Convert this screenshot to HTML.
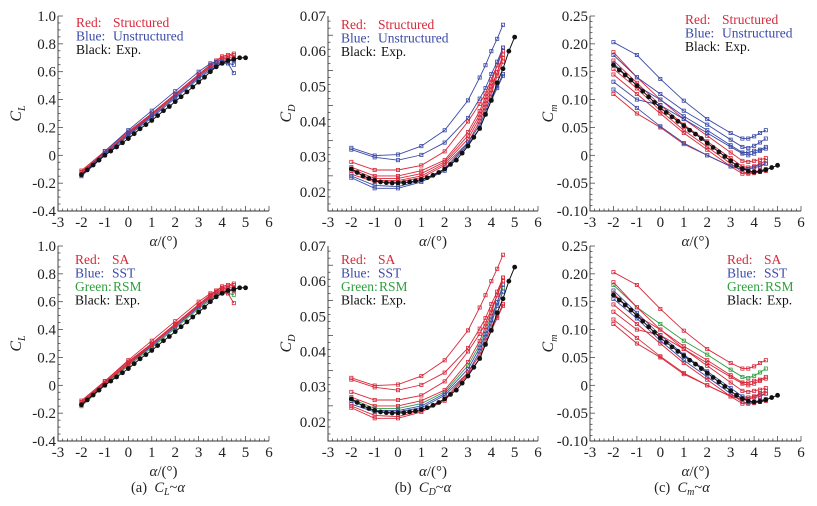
<!DOCTYPE html>
<html><head><meta charset="utf-8">
<style>
html,body{margin:0;padding:0;background:#fff;}
svg, svg text{font-family:"Liberation Serif","DejaVu Serif",serif;}
</style></head>
<body>
<svg id="fig" width="817" height="501" viewBox="0 0 817 501" xmlns="http://www.w3.org/2000/svg" font-family="Liberation Serif, serif"></svg>
<script>
// ---- data ----
const alphaCfd = [-2,-1,0,1,2,3,3.5,3.75,4,4.25,4.5];
const alphaExp = [-2,-1.75,-1.5,-1.25,-1,-0.75,-0.5,-0.25,0,0.25,0.5,0.75,1,1.25,1.5,1.75,2,2.25,2.5,2.75,3,3.25,3.5,3.75,4,4.25,4.5,4.75,5];
const xTicks = [-3,-2,-1,0,1,2,3,4,5,6];

const clExp = [-0.14,-0.105,-0.07,-0.035,0.0,0.03,0.06,0.09,0.12,0.155,0.19,0.22,0.25,0.285,0.32,0.35,0.385,0.42,0.455,0.49,0.525,0.56,0.6,0.635,0.66,0.68,0.69,0.70,0.70];
const clR1 = [-0.12,0.02,0.16,0.30,0.44,0.58,0.65,0.68,0.70,0.71,0.72];
const clR2 = [-0.13,0.01,0.15,0.29,0.43,0.57,0.64,0.67,0.69,0.70,0.70];
const clR3 = [-0.12,0.02,0.16,0.29,0.43,0.57,0.63,0.66,0.68,0.69,0.68];
const clR4 = [-0.11,0.03,0.17,0.30,0.44,0.58,0.65,0.68,0.71,0.72,0.73];
const clB1 = [-0.14,0.03,0.18,0.32,0.46,0.60,0.66,0.67,0.67,0.66,0.59];
const clB2 = [-0.15,0.00,0.14,0.27,0.41,0.55,0.61,0.64,0.66,0.66,0.65];
const clB3 = [-0.14,0.01,0.15,0.28,0.42,0.56,0.62,0.65,0.67,0.68,0.68];
const clTicks = [-0.4,-0.2,0,0.2,0.4,0.6,0.8,1.0];
const clTickLabels = ["-0.4","-0.2","0","0.2","0.4","0.6","0.8","1.0"];

const cdExp = [.0265,.0255,.0245,.0238,.0232,.0228,.0226,.0225,.0225,.0226,.0228,.0231,.0235,.024,.0247,.0255,.0265,.0278,.029,.031,.033,.0355,.038,.042,.046,.051,.055,.060,.064];
const cdR1 = [.0285,.0262,.0262,.0275,.0315,.040,.045,.048,.052,.056,.061];
const cdR2 = [.027,.0245,.0245,.026,.029,.037,.043,.047,.051,.056,.060];
const cdR3 = [.0265,.0238,.0238,.0252,.0285,.036,.042,.046,.050,.054,.058];
const cdR4 = [.026,.0232,.0232,.0245,.028,.035,.041,.045,.049,.054,.059];
const cdR5 = [.025,.0228,.0228,.024,.0275,.034,.040,.044,.048,.053,.057];
const cdB1 = [.0325,.0303,.0306,.033,.0375,.046,.0525,.056,.060,.0635,.0675];
const cdB2 = [.032,.0298,.029,.0305,.034,.041,.0465,.0495,.0535,.057,.061];
const cdB3 = [.0245,.0218,.0215,.0232,.0265,.034,.039,.043,.047,.050,.0535];
const cdB4 = [.024,.021,.021,.0228,.026,.0335,.038,.042,.046,.0495,.053];
const cdTicks = [0.02,0.03,0.04,0.05,0.06,0.07];
const cdTickLabels = ["0.02","0.03","0.04","0.05","0.06","0.07"];

const cmExp = [.162,.153,.144,.135,.125,.115,.105,.095,.085,.077,.069,.061,.053,.045,.038,.030,.022,.014,.006,-.002,-.01,-.018,-.024,-.028,-.030,-.029,-.026,-.022,-.018];
const cmR1 = [.185,.14,.10,.065,.035,.005,-.01,-.012,-.01,-.008,-.005];
const cmR2 = [.155,.12,.08,.045,.015,-.015,-.03,-.032,-.03,-.027,-.025];
const cmR3 = [.145,.11,.075,.04,.01,-.02,-.033,-.033,-.032,-.03,-.028];
const cmR4 = [.11,.075,.05,.02,0,-.02,-.025,-.022,-.02,-.015,-.01];
const cmR5 = [.17,.13,.09,.055,.025,-.005,-.02,-.022,-.02,-.017,-.015];
const cmB1 = [.203,.18,.137,.098,.065,.04,.03,.03,.034,.04,.045];
const cmB2 = [.18,.14,.11,.08,.055,.028,.015,.013,.017,.023,.03];
const cmB3 = [.132,.10,.09,.065,.04,.015,.003,0,.003,.008,.012];
const cmB4 = [.118,.085,.052,.022,0,-.02,-.025,-.025,-.022,-.02,-.015];
const cmB5 = [.165,.125,.1,.07,.045,.018,.005,.005,.008,.01,.015];
const cmTicks = [-0.10,-0.05,0,0.05,0.10,0.15,0.20,0.25];
const cmTickLabels = ["-0.10","-0.05","0","0.05","0.10","0.15","0.20","0.25"];

const RED="#d8283a", BLUE="#3a4aa8", GREEN="#2fa040", BLACK="#111";
const FF="Liberation Serif, serif";
const NS="http://www.w3.org/2000/svg";
const fig=document.getElementById('fig');

function el(tag,attrs,parent){const e=document.createElementNS(NS,tag);for(const k in attrs)e.setAttribute(k,attrs[k]);if(tag==='text')e.setAttribute('font-family',FF);(parent||fig).appendChild(e);return e;}

function panel(p){
  const g=el('g',{});
  
  
  const sx=v=>p.x0+(v-(-3))/(9)*(p.x1-p.x0);
  const sy=v=>p.y1-(v-p.ymin)/(p.ymax-p.ymin)*(p.y1-p.y0);
  const ax=el('path',{d:`M${p.x0},${p.y0}V${p.y1}H${p.x1}`,stroke:'#333','stroke-width':0.9,fill:'none'},g);
  
  
  for(let v=-3;v<=6.0001;v+=0.2){
    const major=Math.abs(v-Math.round(v))<1e-6;
    el('line',{x1:sx(v),x2:sx(v),y1:p.y1,y2:p.y1-(major?5:2.5),stroke:'#333','stroke-width':0.7},g);
  }
  xTicks.forEach(t=>{
    const tx=el('text',{x:sx(t),y:p.y1+16,'font-size':15,'text-anchor':'middle',fill:'#222'},g);
    tx.textContent=String(t);
    
    
  });
  const step=(p.ticks[1]-p.ticks[0])/p.minor;
  for(let v=p.ymin;v<=p.ymax+step*0.01;v+=step){
    const k=Math.round((v-p.ymin)/step);
    const major=k%p.minor===0;
    el('line',{x1:p.x0,x2:p.x0+(major?5:2.5),y1:sy(v),y2:sy(v),stroke:'#333','stroke-width':0.7},g);
  }
  p.ticks.forEach((t,i)=>{
    const tx=el('text',{x:p.x0-2,y:sy(t)+5,'font-size':15,'text-anchor':'end',fill:'#222'},g);
    tx.textContent=p.tickLabels[i];
    
    
  });
  const xt=el('text',{x:(p.x0+p.x1)/2,y:p.y1+35,'font-size':15,'text-anchor':'middle',fill:'#222'},g);
  xt.innerHTML='<tspan font-style="italic">α</tspan>/(°)';
  
  
  const yt=el('text',{transform:`translate(${p.x0-37},${(p.y0+p.y1)/2}) rotate(-90)`,'font-size':16,'text-anchor':'middle','font-style':'italic',fill:'#222'},g);
  yt.innerHTML='C<tspan font-size="10" dy="4">'+p.sub+'</tspan>';
  
  
  p.series.forEach(s=>{
    const pts=s.v.map((v,i)=>[sx(alphaCfd[i]),sy(v)]);
    const ln=el('polyline',{points:pts.map(q=>q.join(',')).join(' '),fill:'none',stroke:s.c,'stroke-width':0.9},g);
    
    
    pts.forEach(q=>{
      const m=el('rect',{x:q[0]-1.6,y:q[1]-1.6,width:3.2,height:3.2,fill:'none',stroke:s.c,'stroke-width':0.8},g);
      
      
    });
  });
  const ep=p.exp.map((v,i)=>[sx(alphaExp[i]),sy(v)]);
  const el2=el('polyline',{points:ep.map(q=>q.join(',')).join(' '),fill:'none',stroke:BLACK,'stroke-width':1},g);
  
  
  ep.forEach(q=>{
    const c=el('circle',{cx:q[0],cy:q[1],r:2.4,fill:BLACK},g);
    
    
  });
  p.legend.forEach((L,i)=>{
    const a=el('text',{x:p.lx,y:p.ly+i*13.5,'font-size':13.5,fill:L[2]},g);
    a.textContent=L[0];
    
    
    const b=el('text',{x:p.lx+(L[3]?L[3]:37),y:p.ly+i*13.5,'font-size':13.5,fill:L[2]},g);
    b.textContent=L[1];
    
    
  });
}

const legTop=[["Red:","Structured",RED],["Blue:","Unstructured",BLUE],["Black:","Exp.",BLACK,40]];
const legBot=[["Red:","SA",RED],["Blue:","SST",BLUE],["Green:","RSM",GREEN,38],["Black:","Exp.",BLACK,40]];

const rowsY=[[16,211],[246,441]];
const cols=[[58,269],[328,538],[590,801]];

panel({name:'cl-structured-panel',x0:cols[0][0],x1:cols[0][1],y0:rowsY[0][0],y1:rowsY[0][1],ymin:-0.4,ymax:1.0,ticks:clTicks,tickLabels:clTickLabels,minor:4,sub:'L',exp:clExp,
 series:[{v:clR1,c:RED},{v:clR2,c:RED},{v:clR3,c:RED},{v:clR4,c:RED},{v:clB1,c:BLUE},{v:clB2,c:BLUE},{v:clB3,c:BLUE}],legend:legTop,lx:76,ly:27});
panel({name:'cd-structured-panel',x0:cols[1][0],x1:cols[1][1],y0:rowsY[0][0],y1:rowsY[0][1],ymin:0.01454,ymax:0.07,ticks:cdTicks,tickLabels:cdTickLabels,minor:5,sub:'D',exp:cdExp,
 series:[{v:cdR1,c:RED},{v:cdR2,c:RED},{v:cdR3,c:RED},{v:cdR4,c:RED},{v:cdR5,c:RED},{v:cdB1,c:BLUE},{v:cdB2,c:BLUE},{v:cdB3,c:BLUE},{v:cdB4,c:BLUE}],legend:legTop,lx:341,ly:29});
panel({name:'cm-structured-panel',x0:cols[2][0],x1:cols[2][1],y0:rowsY[0][0],y1:rowsY[0][1],ymin:-0.10,ymax:0.25,ticks:cmTicks,tickLabels:cmTickLabels,minor:5,sub:'m',exp:cmExp,
 series:[{v:cmR1,c:RED},{v:cmR2,c:RED},{v:cmR3,c:RED},{v:cmR4,c:RED},{v:cmR5,c:RED},{v:cmB1,c:BLUE},{v:cmB2,c:BLUE},{v:cmB3,c:BLUE},{v:cmB4,c:BLUE},{v:cmB5,c:BLUE}],legend:legTop,lx:685,ly:24});

panel({name:'cl-turbulence-panel',x0:cols[0][0],x1:cols[0][1],y0:rowsY[1][0],y1:rowsY[1][1],ymin:-0.4,ymax:1.0,ticks:clTicks,tickLabels:clTickLabels,minor:4,sub:'L',exp:clExp,
 series:[{v:clB2,c:GREEN},{v:clB3,c:BLUE},{v:clR1,c:RED},{v:clR2,c:RED},{v:clR3,c:RED},{v:clR4,c:RED},{v:clB1,c:RED}],legend:legBot,lx:75,ly:264});
panel({name:'cd-turbulence-panel',x0:cols[1][0],x1:cols[1][1],y0:rowsY[1][0],y1:rowsY[1][1],ymin:0.01454,ymax:0.07,ticks:cdTicks,tickLabels:cdTickLabels,minor:5,sub:'D',exp:cdExp,
 series:[{v:cdR3,c:GREEN},{v:cdR4,c:BLUE},{v:cdR5,c:BLUE},{v:cdR1,c:RED},{v:cdR2,c:RED},{v:cdB1,c:RED},{v:cdB2,c:RED},{v:cdB3,c:RED},{v:cdB4,c:RED}],legend:legBot,lx:341,ly:264});
panel({name:'cm-turbulence-panel',x0:cols[2][0],x1:cols[2][1],y0:rowsY[1][0],y1:rowsY[1][1],ymin:-0.10,ymax:0.25,ticks:cmTicks,tickLabels:cmTickLabels,minor:5,sub:'m',exp:cmExp,
 series:[{v:cmB2,c:GREEN},{v:cmR2,c:BLUE},{v:cmR5,c:BLUE},{v:cmR1,c:RED},{v:cmR3,c:RED},{v:cmR4,c:RED},{v:cmB1,c:RED},{v:cmB3,c:RED},{v:cmB4,c:RED},{v:cmB5,c:RED}],legend:legBot,lx:727,ly:264});

[["(a)","L",158],["(b)","D",423],["(c)","m",682]].forEach(c=>{
  const t=el('text',{x:c[2],y:492,'font-size':14.5,'text-anchor':'middle',fill:'#222'});
  t.innerHTML=c[0]+'\u00a0\u00a0<tspan font-style="italic">C</tspan><tspan font-style="italic" font-size="10" dy="3">'+c[1]+'</tspan><tspan dy="-3">~</tspan><tspan font-style="italic">α</tspan>';
  
  
});
</script>
</body></html>
